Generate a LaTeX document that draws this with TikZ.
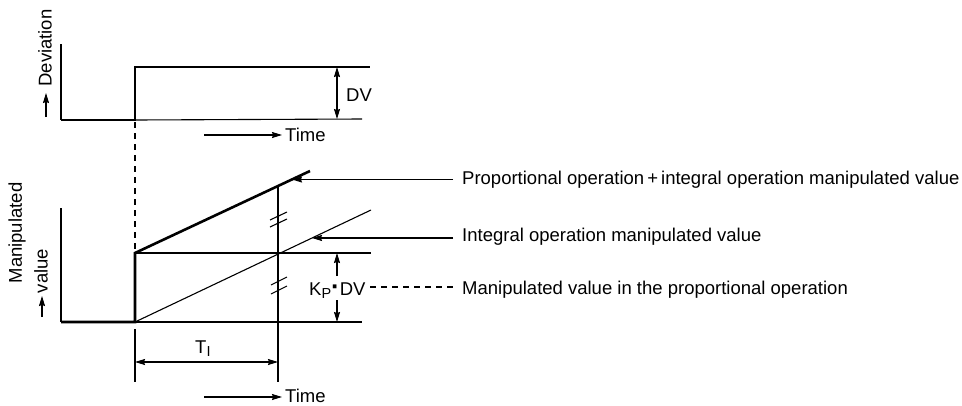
\documentclass[tikz,border=0pt]{standalone}
\usepackage{fontspec}
\setmainfont{Liberation Sans}
\usetikzlibrary{arrows.meta}
\newcommand{\lowsub}[1]{\raisebox{-3.5pt}{\fontsize{14.5}{14.5}\selectfont #1}}
\begin{document}
\begin{tikzpicture}[x=1pt,y=-1pt,
  axisline/.style={line width=1.1pt},
  boldline/.style={line width=2.6pt,line join=miter},
  dashline/.style={line width=1.1pt,dash pattern=on 6pt off 5pt},
  tipend/.style={-{Stealth[length=10pt,width=6pt,inset=1pt]}},
  dimline/.style={line width=1.1pt,{Stealth[length=10pt,width=6pt,inset=1pt]}-{Stealth[length=10pt,width=6pt,inset=1pt]}},
  lbl/.style={font=\fontsize{18.5}{22}\selectfont,inner sep=0pt}]
\useasboundingbox (0,0) rectangle (962,405);

% ---------- deviation (step input) ----------
\coordinate (dTop) at (61,44);
\coordinate (dO) at (61,120);
\coordinate (dS) at (135,120);
\coordinate (dT) at (135,67);
\coordinate (dE) at (370,67);
\coordinate (dB) at (362,119);
\draw[axisline] (dTop) -- (dO);
\draw[axisline] (dS) -- (dB);
\draw[boldline] (dO) -- (dS) -- (dT) -- (dE);

\node[lbl,rotate=90] (devlbl) at (45,48) {Deviation};
\coordinate (devA) at (46,117);
\coordinate (devB) at (46,93);
\draw[axisline,tipend] (devA) -- (devB);

% DV dimension
\coordinate (dvTop) at (337,67);
\coordinate (dvBot) at (337,119);
\draw[dimline] (dvTop) -- (dvBot);
\node[lbl,anchor=west] (dv) at (346,95) {DV};

% time axis
\coordinate (t1a) at (204,135);
\coordinate (t1b) at (282,135);
\draw[axisline,tipend] (t1a) -- (t1b);
\node[lbl,anchor=west] (time1) at (285,135) {Time};

% step instant carried down
\coordinate (dashA) at (135,122);
\coordinate (dashB) at (135,253);
\draw[dashline] (dashA) -- (dashB);

% ---------- manipulated value ----------
\coordinate (mTop) at (61,208);
\coordinate (mO) at (61,322);
\coordinate (mS) at (135,322);
\coordinate (mP) at (135,253);
\coordinate (mPI) at (310,171);
\coordinate (mIend) at (371,210);
\coordinate (mKend) at (371,253);
\coordinate (mBend) at (362,322);
\draw[axisline] (mTop) -- (mO);
\draw[axisline] (mS) -- (mBend);
\draw[axisline] (mP) -- (mKend);
\draw[axisline] (mS) -- (mIend);
\draw[boldline] (mO) -- (mS) -- (mP) -- (mPI);

\node[lbl,rotate=90] (manlbl) at (17,233) {Manipulated};
\node[lbl,rotate=90] (vallbl) at (41,271) {value};
\coordinate (manA) at (42,317);
\coordinate (manB) at (42,296);
\draw[axisline,tipend] (manA) -- (manB);

% time marker at T_I
\coordinate (tiTop) at (278,186);
\coordinate (tiBot) at (278,382);
\draw[axisline] (tiTop) -- (tiBot);
\coordinate (stA) at (135,329);
\coordinate (stB) at (135,382);
\draw[axisline] (stA) -- (stB);

% break marks
\draw[axisline] (270,220) -- (287,212);
\draw[axisline] (270,227) -- (287,219);
\draw[axisline] (271,285) -- (287,277);
\draw[axisline] (271,294) -- (287,286);

% T_I dimension
\coordinate (tiL) at (135,362);
\coordinate (tiR) at (278,362);
\draw[dimline] (tiL) -- (tiR);
\node[lbl,anchor=base west] (ti) at (195,353) {T\lowsub{I}};

% Kp*DV dimension
\coordinate (kpTop) at (337,253);
\coordinate (kpTa) at (337,276);
\coordinate (kpBot) at (337,322);
\coordinate (kpBa) at (337,300);
\draw[axisline,tipend] (kpTa) -- (kpTop);
\draw[axisline,tipend] (kpBa) -- (kpBot);
\node[lbl,anchor=base west] (kp) at (309,295) {K\lowsub{P}{\fontsize{26}{26}\selectfont\textbf{·}}DV};

% lower time axis
\coordinate (t2a) at (204,397);
\coordinate (t2b) at (282,397);
\draw[axisline,tipend] (t2a) -- (t2b);
\node[lbl,anchor=west] (time2) at (285,396) {Time};

% ---------- legends ----------
\node[lbl,anchor=west] (legPI) at (462,180) {Proportional operation\,+\,integral operation manipulated value};
\node[lbl,anchor=west] (legI) at (462,237) {Integral operation manipulated value};
\node[lbl,anchor=west] (legP) at (462,290) {Manipulated value in the proportional operation};
\coordinate (aPI) at (453,179.5);
\coordinate (aPItip) at (292,179.5);
\coordinate (aI) at (453,238);
\coordinate (aItip) at (312,238);
\draw[axisline,tipend] (aPI) -- (aPItip);
\draw[axisline,tipend] (aI) -- (aItip);
\coordinate (pA) at (370,287);
\coordinate (pB) at (455,287);
\draw[dashline] (pA) -- (pB);
\end{tikzpicture}
\end{document}
